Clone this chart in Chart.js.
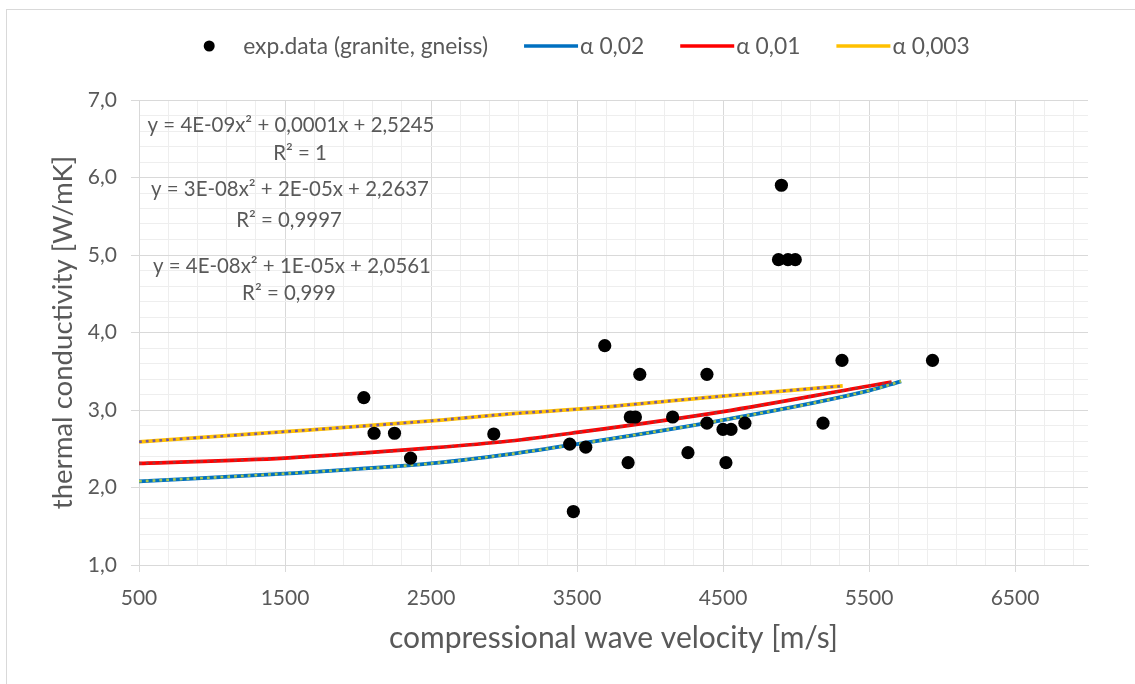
<!DOCTYPE html>
<html>
<head>
<meta charset="utf-8">
<title>thermal conductivity vs compressional wave velocity</title>
<script src="https://cdn.jsdelivr.net/npm/chart.js@4"></script>
<style>
  html, body { margin: 0; padding: 0; background: #ffffff; }
  #wrap { position: relative; width: 1135px; height: 684px; }
</style>
</head>
<body>
<div id="wrap"><canvas id="chart" width="1135" height="684"></canvas></div>
<script>
// measured samples (granite, gneiss): wave velocity [m/s] and thermal conductivity [W/mK]
const velocity = [2040, 2110, 2250, 2360, 2930, 3450, 3475, 3560, 3690, 3850, 3865, 3900, 3930, 4155,
                  4260, 4390, 4390, 4500, 4520, 4555, 4650, 4880, 4900, 4945, 4995, 5185, 5315, 5935];
const conductivity = [3.16, 2.70, 2.70, 2.38, 2.69, 2.56, 1.69, 2.52, 3.83, 2.32, 2.91, 2.91, 3.46, 2.91,
                      2.45, 3.46, 2.83, 2.75, 2.32, 2.75, 2.83, 4.94, 5.90, 4.94, 4.94, 2.83, 3.64, 3.64];

// model curves for the three α values
const velA002 = [500, 1500, 2500, 3040, 3500, 4500, 5500, 5720];
const condA002 = [2.08, 2.18, 2.31, 2.43, 2.56, 2.87, 3.25, 3.37];
const velA001 = [500, 1500, 2500, 3040, 3500, 4500, 5500, 5655];
const condA001 = [2.31, 2.38, 2.51, 2.60, 2.71, 2.98, 3.31, 3.36];
const velA0003 = [500, 1500, 2500, 3040, 3500, 4500, 5320];
const condA0003 = [2.59, 2.72, 2.86, 2.95, 3.01, 3.18, 3.31];

const seriesNames = ['exp.data (granite, gneiss)', 'α 0,02', 'α 0,01', 'α 0,003'];

// polynomial trendline labels (α 0,003 / α 0,01 / α 0,02)
const trendText = [
  'y = 4E-09x² + 0,0001x + 2,5245', 'R² = 1',
  'y = 3E-08x² + 2E-05x + 2,2637', 'R² = 0,9997',
  'y = 4E-08x² + 1E-05x + 2,0561', 'R² = 0,999'
];

// axis ticks
const xMajorTicks = [500, 1500, 2500, 3500, 4500, 5500, 6500];
const xTickLabels = ['500', '1500', '2500', '3500', '4500', '5500', '6500'];
const yMajorTicks = [1, 2, 3, 4, 5, 6, 7];
const yTickLabels = ['1,0', '2,0', '3,0', '4,0', '5,0', '6,0', '7,0'];

const FONT = 'Lato, "Open Sans", sans-serif';
const TEXT = '#595959';
const GRID_MAJOR = '#d9d9d9';
const GRID_MINOR = '#eeeeee';

const pts = (xs, ys) => xs.map((x, i) => ({ x: x, y: ys[i] }));
const near = (a, b) => Math.abs(a - b) < 1e-6;
const majorIndex = (list, v) => list.findIndex(m => near(m, v));

function curve(label, xs, ys, color) {
  return {
    label: label, data: pts(xs, ys), showLine: true, borderColor: color, backgroundColor: color,
    borderWidth: 3.75, pointRadius: 0, pointHoverRadius: 0, cubicInterpolationMode: 'monotone', order: 2
  };
}
function trendline(xs, ys, color) {
  return {
    label: '', data: pts(xs, ys), showLine: true, borderColor: color, backgroundColor: color,
    borderWidth: 2.6, borderDash: [2.8, 4], pointRadius: 0, pointHoverRadius: 0,
    cubicInterpolationMode: 'monotone', order: 1
  };
}

// outer frame of the chart
const framePlugin = {
  id: 'frame',
  beforeDraw(chart) {
    const ctx = chart.ctx;
    ctx.save();
    ctx.strokeStyle = '#d9d9d9';
    ctx.lineWidth = 1;
    ctx.strokeRect(6.5, 9.5, 1300, 800);
    ctx.restore();
  }
};

// series legend along the top
const legendPlugin = {
  id: 'seriesLegend',
  afterDraw(chart) {
    const ctx = chart.ctx;
    const sets = chart.data.datasets.slice(0, 4);
    ctx.save();
    ctx.font = '22.8px ' + FONT;
    ctx.textBaseline = 'middle';
    const items = sets.map((d, i) => {
      const w = ctx.measureText(d.label).width;
      const sym = i === 0 ? 40 : 56;
      return { d: d, sym: sym, total: sym + w, marker: i === 0 };
    });
    const gap = 36;
    const total = items.reduce((s, it) => s + it.total, 0) + gap * (items.length - 1);
    let x = 586.5 - total / 2;
    const y = 46;
    items.forEach(it => {
      if (it.marker) {
        ctx.fillStyle = it.d.backgroundColor;
        ctx.beginPath();
        ctx.arc(x + 6, y, 5.5, 0, Math.PI * 2);
        ctx.fill();
      } else {
        ctx.strokeStyle = it.d.borderColor;
        ctx.lineWidth = 3.5;
        ctx.beginPath();
        ctx.moveTo(x, y);
        ctx.lineTo(x + 54, y);
        ctx.stroke();
      }
      ctx.fillStyle = TEXT;
      ctx.fillText(it.d.label, x + it.sym, y + 1);
      x += it.total + gap;
    });
    ctx.restore();
  }
};

// trendline equations, stacked in the upper left of the plot
const equationPlugin = {
  id: 'equations',
  afterDraw(chart) {
    const ctx = chart.ctx;
    const a = chart.chartArea;
    const place = [[152, 31.5], [161, 59.5], [151, 96], [150, 126.5], [153, 173], [150, 200]];
    ctx.save();
    ctx.font = '20.4px ' + FONT;
    ctx.fillStyle = TEXT;
    ctx.textAlign = 'center';
    ctx.textBaseline = 'alphabetic';
    trendText.forEach((t, i) => ctx.fillText(t, a.left + place[i][0], a.top + place[i][1]));
    ctx.restore();
  }
};

const tickFont = { family: FONT, size: 21 };

new Chart(document.getElementById('chart'), {
  type: 'scatter',
  data: {
    datasets: [
      {
        label: seriesNames[0], data: pts(velocity, conductivity), backgroundColor: '#000000',
        borderColor: '#000000', pointRadius: 6.6, pointHoverRadius: 6.6, borderWidth: 0, order: 0
      },
      curve(seriesNames[1], velA002, condA002, '#0070C0'),
      curve(seriesNames[2], velA001, condA001, '#FF0000'),
      curve(seriesNames[3], velA0003, condA0003, '#FFC000'),
      trendline(velA002, condA002, '#A8C64E'),
      trendline(velA001, condA001, '#A3363A'),
      trendline(velA0003, condA0003, '#7358A6')
    ]
  },
  options: {
    responsive: false,
    animation: false,
    events: [],
    layout: { padding: { top: 100, right: 47, bottom: 0, left: 0 } },
    plugins: { legend: { display: false }, tooltip: { enabled: false } },
    scales: {
      x: {
        type: 'linear', min: 500, max: 7000,
        afterBuildTicks(scale) {
          const t = [];
          for (let v = 500; v < 7000; v += 200) t.push({ value: v });
          scale.ticks = t;
        },
        afterFit(scale) { scale.height = 119; },
        ticks: {
          autoSkip: false, maxRotation: 0, minRotation: 0, padding: 14, color: TEXT, font: tickFont,
          callback: v => { const i = majorIndex(xMajorTicks, v); return i >= 0 ? xTickLabels[i] : ''; }
        },
        grid: {
          color: c => majorIndex(xMajorTicks, c.tick.value) >= 0 ? GRID_MAJOR : GRID_MINOR,
          tickColor: c => majorIndex(xMajorTicks, c.tick.value) >= 0 ? GRID_MAJOR : 'rgba(0,0,0,0)',
          tickLength: 7, lineWidth: 1
        },
        border: { color: GRID_MAJOR, width: 1 },
        title: {
          display: true, text: 'compressional wave velocity [m/s]', color: TEXT,
          font: { family: FONT, size: 30 },
          padding: { top: 0, bottom: 28 }
        }
      },
      y: {
        type: 'linear', min: 1, max: 7,
        afterBuildTicks(scale) {
          const t = [];
          for (let k = 0; k <= 30; k++) t.push({ value: Math.round((1 + k * 0.2) * 10) / 10 });
          scale.ticks = t;
        },
        afterFit(scale) { scale.width = 139; },
        ticks: {
          autoSkip: false, padding: 14, color: TEXT, font: tickFont,
          callback: v => { const i = majorIndex(yMajorTicks, v); return i >= 0 ? yTickLabels[i] : ''; }
        },
        grid: {
          color: c => majorIndex(yMajorTicks, c.tick.value) >= 0 ? GRID_MAJOR : GRID_MINOR,
          tickColor: c => majorIndex(yMajorTicks, c.tick.value) >= 0 ? GRID_MAJOR : 'rgba(0,0,0,0)',
          tickLength: 8, lineWidth: 1
        },
        border: { color: GRID_MAJOR, width: 1 },
        title: {
          display: true, text: 'thermal conductivity [W/mK]', color: TEXT,
          font: { family: FONT, size: 27.6 },
          padding: { top: 47, bottom: 0 }
        }
      }
    }
  },
  plugins: [framePlugin, legendPlugin, equationPlugin]
});
</script>
</body>
</html>
